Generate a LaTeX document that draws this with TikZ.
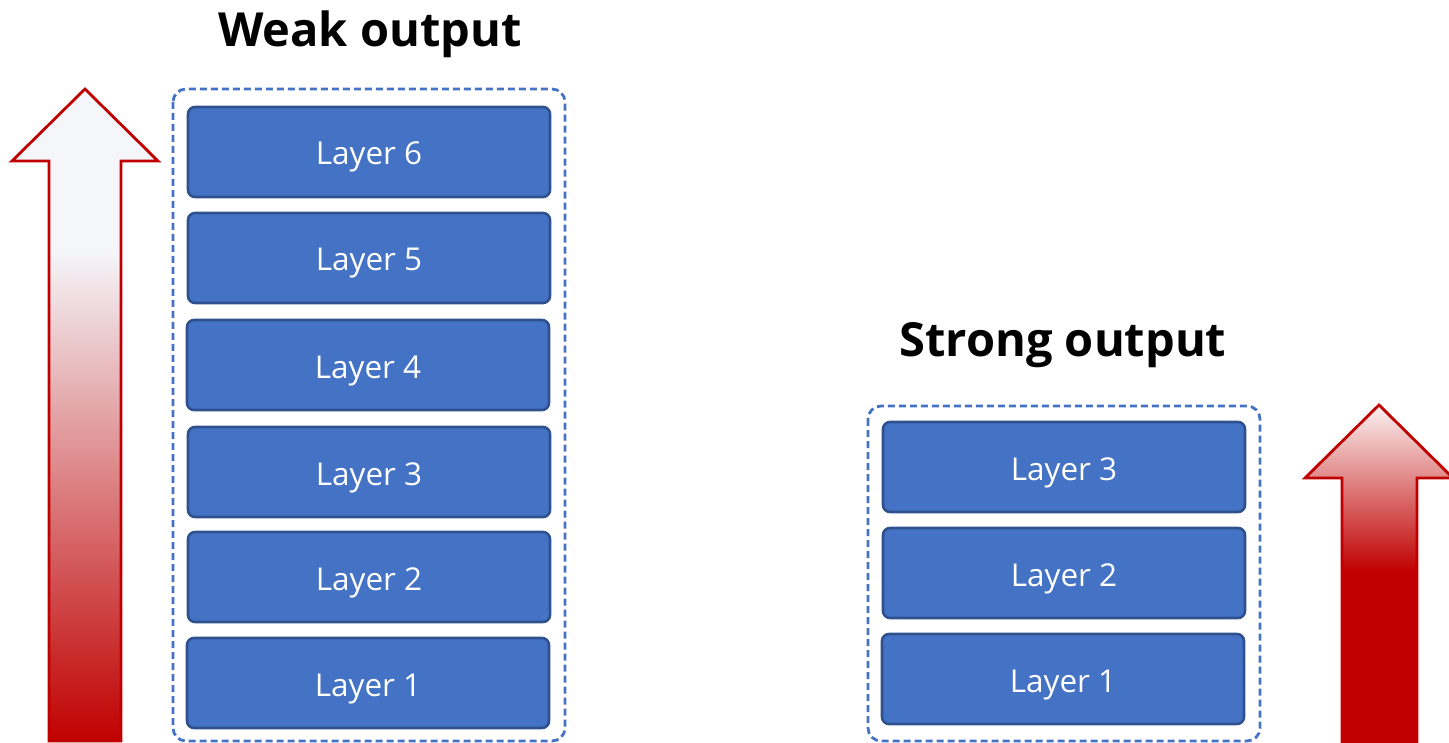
\documentclass[tikz,border=0pt]{standalone}
\usepackage{fontspec}
\setmainfont{Open Sans}
\definecolor{layerfill}{HTML}{4472C4}
\definecolor{layeredge}{HTML}{2F528F}
\definecolor{groupedge}{HTML}{4472C4}
\definecolor{arrowred}{HTML}{C00000}
\definecolor{arrowpale}{HTML}{F5F6FA}
\definecolor{arrowtop}{HTML}{FBF2F2}
% vertical colour ramps for the two arrows (path fills the 25bp..75bp band)
\pgfdeclareverticalshading{weakramp}{100bp}{color(0bp)=(arrowred); color(25bp)=(arrowred); color(62.6bp)=(arrowpale); color(100bp)=(arrowpale)}
\pgfdeclareverticalshading{strongramp}{100bp}{color(0bp)=(arrowred); color(50.5bp)=(arrowred); color(75bp)=(arrowtop); color(100bp)=(arrowtop)}
\begin{document}
\begin{tikzpicture}[x=1pt,y=-1pt,
  layerbox/.style={draw=layeredge, line width=2.6pt, fill=layerfill, rounded corners=7pt},
  layertext/.style={text=white, font=\fontsize{31.5}{38}\selectfont, anchor=base},
  groupbox/.style={draw=groupedge, line width=2.8pt, dash pattern=on 7pt off 4pt, rounded corners=13pt},
  titletext/.style={font=\fontsize{47}{56}\selectfont\bfseries, anchor=base},
  arrowshape/.style={draw=arrowred, line width=2.8pt, line join=miter}
]
\useasboundingbox (0,0) rectangle (1449,743);

% group frames
\draw[groupbox] (173,89) rectangle (565,741);
\draw[groupbox] (868,406) rectangle (1260,741);

% titles
\node[titletext] (weak) at (370,47) {Weak output};
\node[titletext] (strong) at (1063,357) {Strong output};

% layers of the deep stack
\foreach \i/\top/\l in {6/107/188,5/213/188,4/320/187,3/427/188,2/532/188,1/638/187}{
  \draw[layerbox] (\l,\top) rectangle ++(362,90);
  \node[layertext] (w\i) at (\l+181,\top+58) {Layer \i};
}
% layers of the shallow stack
\foreach \i/\top/\l in {3/422/883,2/528/883,1/634/882}{
  \draw[layerbox] (\l,\top) rectangle ++(362,90);
  \node[layertext] (s\i) at (\l+181,\top+58) {Layer \i};
}

% tall arrow
\path[arrowshape, shading=weakramp]
  (85,89) -- (158,161) -- (121,161) -- (121,741) -- (49,741) -- (49,161) -- (12,161) -- cycle;
% short arrow
\begin{scope}
\clip (0,0) rectangle (1449,743);
\path[shading=strongramp]
  (1379,405) -- (1453,478) -- (1417,478) -- (1417,745) -- (1342,745) -- (1342,478) -- (1305,478) -- cycle;
\draw[arrowshape]
  (1342,745) -- (1342,478) -- (1305,478) -- (1379,405) -- (1453,478) -- (1417,478) -- (1417,745);
\end{scope}
\end{tikzpicture}
\end{document}
